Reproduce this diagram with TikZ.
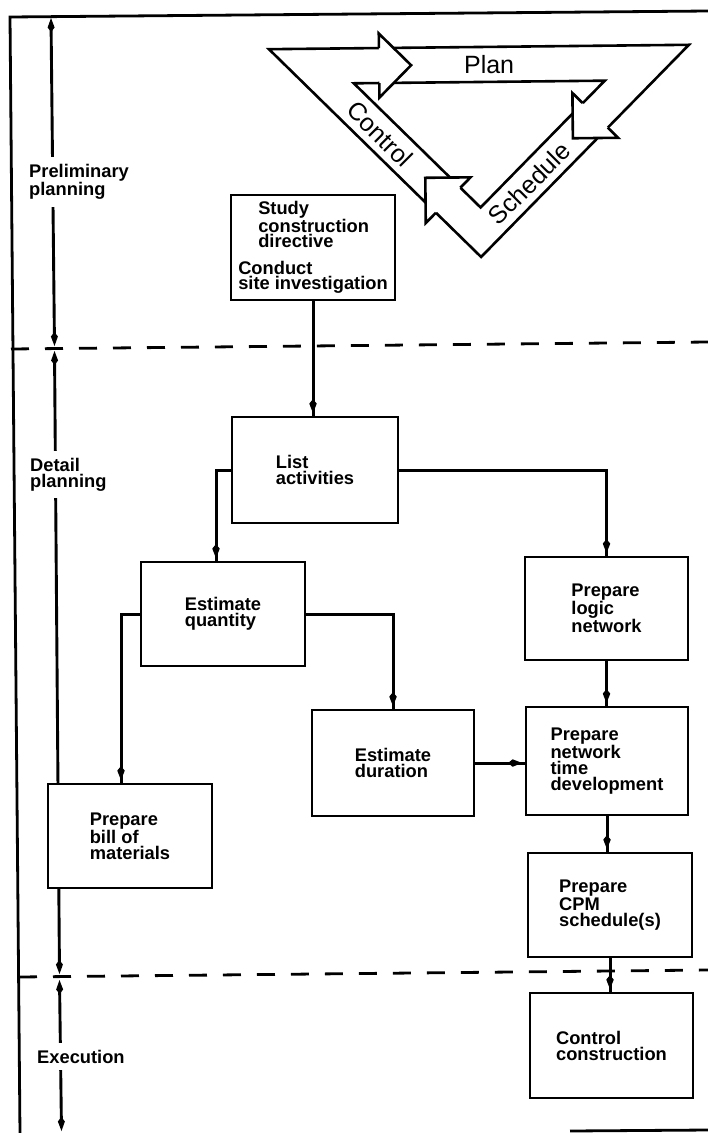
\documentclass[tikz,border=0pt]{standalone}
\usepackage{fontspec}
\setmainfont{Liberation Sans}
\usetikzlibrary{arrows.meta,decorations.markings,calc}
\begin{document}
\begin{tikzpicture}[x=1pt,y=-1pt,
  frameline/.style={line width=2.8pt},
  dashline/.style={line width=2.8pt, dash pattern=on 18pt off 16pt},
  tri/.style={line width=2.6pt, line join=miter},
  trilabel/.style={inner sep=0pt, font=\fontsize{25}{25}\selectfont},
  box/.style={draw, line width=2.8pt, fill=white, inner sep=0pt, align=left,
    font=\bfseries\fontsize{18.3}{16}\selectfont},
  sidelabel/.style={fill=white, inner xsep=0pt, inner ysep=7pt, align=left,
    font=\bfseries\fontsize{18.3}{16}\selectfont},
  axisline/.style={line width=2.9pt, {Kite[length=14pt,width=7pt,inset=4.5pt]}-{Kite[length=14pt,width=7pt,inset=4.5pt]}},
  conn/.style={line width=3pt, postaction={decorate},
    decoration={markings, mark=at position -2.5pt with {\arrow{Kite[length=14pt,width=7.5pt,inset=4.5pt]}}}}
]
\useasboundingbox (0,0) rectangle (708,1133);

% frame
\draw[frameline] (20,1134) -- (10,17) -- (708,11);
\draw[frameline] (570,1131) -- (708,1130);

% phase separators
\draw[dashline] (11,349) -- (708,342);
\draw[dashline] (19,977) -- (708,970);

% time axis
\coordinate (ax1t) at (51,18);
\coordinate (ax1b) at (54.5,346);
\coordinate (ax2t) at (54.5,351);
\coordinate (ax2b) at (59.5,974);
\coordinate (ax3t) at (59.5,980);
\coordinate (ax3b) at (61.5,1131);
\draw[axisline] (ax1t) -- (ax1b);
\draw[axisline] (ax2t) -- (ax2b);
\draw[axisline] (ax3t) -- (ax3b);
\node[sidelabel, anchor=west] (prelim) at (29,182) {Preliminary\\planning};
\node[sidelabel, anchor=west] (detail) at (30,474.5) {Detail\\planning};
\node[sidelabel, anchor=base west] (exec) at (37,1063) {Execution};

% plan-schedule-control triangle
\begin{scope}[rotate around={0.6:(478,150)}]
  \draw[tri] (270,47) -- (690,47) -- (480,257) -- cycle;
  \draw[tri] (354.5,82) -- (605.5,82) -- (480,207.5) -- cycle;
  % head into Plan
  \fill[white] (412,64.5) -- (380,32.5) -- (380,96.5) -- cycle;
  \draw[tri] (380,47) -- (380,32.5) -- (412,64.5) -- (380,96.5) -- (380,82);
  % head into Schedule
  \fill[white] (573,139.25) -- (573,94) -- (618.25,139.25) -- cycle;
  \draw[tri] (583.25,104.25) -- (573,94) -- (573,139.25) -- (618.25,139.25) -- (608,129);
  % head into Control
  \fill[white] (425,177.25) -- (470.25,177.25) -- (425,222.5) -- cycle;
  \draw[tri] (460,187.5) -- (470.25,177.25) -- (425,177.25) -- (425,222.5) -- (435.25,212.25);
  \node[trilabel] (plan) at (490,64.5) {Plan};
  \node[trilabel, rotate=-45] (control) at (380,133) {Control};
  \node[trilabel, rotate=45] (schedule) at (529,184) {Schedule};
\end{scope}

% boxes
\node[box, minimum width=164pt, minimum height=105pt,
  font=\bfseries\fontsize{18.3}{15}\selectfont] (study) at (313,247.5)
  {\hspace*{20pt}Study\\\hspace*{20pt}construction\\\hspace*{20pt}directive\\[12pt]Conduct\\site investigation};
\node[box, minimum width=166pt, minimum height=106pt] (list) at (315,470) {List\\activities};
\node[box, minimum width=164pt, minimum height=104pt] (eq) at (223,614) {Estimate\\quantity};
\node[box, minimum width=163pt, minimum height=103pt] (logic) at (606.5,608.5) {Prepare\\logic\\network};
\node[box, minimum width=162pt, minimum height=106pt] (dur) at (393,763) {Estimate\\duration};
\node[box, minimum width=164pt, minimum height=104pt] (bill) at (130,836) {Prepare\\bill of\\materials};
\node[box, minimum width=162pt, minimum height=108pt] (ntd) at (607,761) {Prepare\\network\\time\\development};
\node[box, minimum width=164pt, minimum height=104pt] (cpm) at (610,905) {Prepare\\CPM\\schedule(s)};
\node[box, minimum width=163pt, minimum height=105pt] (cc) at (611.5,1045.5) {Control\\construction};

% connectors
\draw[conn] (study.south) -- (study.south |- list.north);
\draw[conn] (list.west) -| ([xshift=-7pt]eq.north);
\draw[conn] (list.east) -| (logic.north);
\draw[conn] (eq.east) -| (dur.north);
\draw[conn] (eq.west) -| ([xshift=-9pt]bill.north);
\draw[conn] (logic.south) -- (logic.south |- ntd.north);
\draw[conn] (dur.east) -- (dur.east -| ntd.west);
\draw[conn] (ntd.south) -- (ntd.south |- cpm.north);
\draw[conn] (cpm.south) -- (cpm.south |- cc.north);
\end{tikzpicture}
\end{document}
